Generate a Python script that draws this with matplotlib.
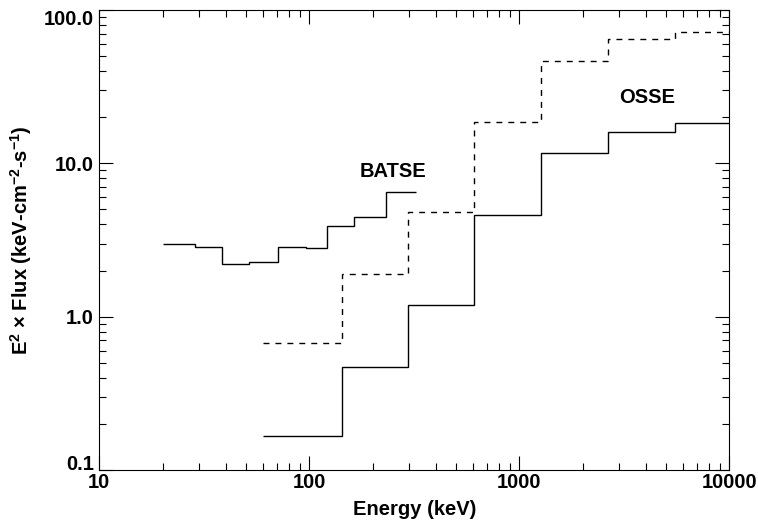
import matplotlib
matplotlib.use("Agg")
import matplotlib.pyplot as plt
import numpy as np
from matplotlib.ticker import LogLocator, NullFormatter, FixedLocator, FixedFormatter

plt.rcParams['font.family'] = ['Liberation Sans', 'DejaVu Sans']
plt.rcParams['font.weight'] = 'bold'
plt.rcParams['mathtext.default'] = 'regular'

# BATSE (solid histogram)
batse_edges = [20, 28.6, 38.5, 51.8, 71, 96, 121, 163, 232, 321]
batse_vals = [3.0, 2.84, 2.21, 2.27, 2.83, 2.79, 3.91, 4.49, 6.55]

# OSSE (solid histogram)
osse_edges = [60.4, 142.6, 294, 608, 1264, 2636, 5505, 10000]
osse_vals = [0.167, 0.472, 1.20, 4.62, 11.6, 16.1, 18.2]

# Dashed histogram
dash_edges = [60.4, 142.6, 294, 608, 1264, 2636, 5505, 10000]
dash_vals = [0.670, 1.90, 4.80, 18.5, 46.6, 64.4, 72.3]

x_ticks = [10, 100, 1000, 10000]
x_labels = ['10', '100', '1000', '10000']
y_ticks = [0.1, 1.0, 10.0, 100.0]
y_labels = ['0.1', '1.0', '10.0', '100.0']

fig = plt.figure(figsize=(7.58, 5.21), dpi=100)
ax = fig.add_axes([99.3/758, 51/521, (729.3-99.3)/758, 460/521])

def stairs(ax, edges, vals, **kw):
    ax.stairs(vals, edges, baseline=None, **kw)

stairs(ax, batse_edges, batse_vals, color='black', lw=1.0)
stairs(ax, osse_edges, osse_vals, color='black', lw=1.0)
stairs(ax, dash_edges, dash_vals, color='black', lw=1.0, linestyle=(0, (4.3, 4.3)))

ax.set_xscale('log')
ax.set_yscale('log')
ax.set_xlim(10, 10000)
ax.set_ylim(0.1, 100)

ax.xaxis.set_major_locator(FixedLocator(x_ticks))
ax.xaxis.set_major_formatter(FixedFormatter(x_labels))
ax.yaxis.set_major_locator(FixedLocator(y_ticks))
ax.yaxis.set_major_formatter(FixedFormatter(y_labels))
ax.xaxis.set_minor_locator(LogLocator(base=10, subs=np.arange(2, 10)))
ax.yaxis.set_minor_locator(LogLocator(base=10, subs=np.arange(2, 10)))
ax.xaxis.set_minor_formatter(NullFormatter())
ax.yaxis.set_minor_formatter(NullFormatter())

ax.tick_params(which='both', direction='in', top=True, right=True, width=0.8)
ax.tick_params(which='major', length=10, labelsize=14.5)
ax.tick_params(axis='x', which='major', pad=2)
ax.tick_params(axis='y', which='major', pad=4)
ax.tick_params(which='minor', length=5)
for lab in ax.get_xticklabels() + ax.get_yticklabels():
    lab.set_fontweight('bold')
ylabs = ax.get_yticklabels()
ylabs[0].set_verticalalignment('baseline')
ylabs[-1].set_verticalalignment('top')
for s in ax.spines.values():
    s.set_linewidth(0.8)

ax.set_xlabel('Energy (keV)', fontsize=14.5, fontweight='bold', labelpad=6)
ax.set_ylabel('E$^{2}$ × Flux (keV-cm$^{-2}$-s$^{-1}$)', fontsize=14.5, fontweight='bold', labelpad=7)

ax.text(10**(1 + (393.3-99.3)/210), 10**(-1 + (470-171.7)/153.3), 'BATSE',
        ha='center', va='center', fontsize=14.5, fontweight='bold')
ax.text(10**(1 + (646.7-99.3)/210), 10**(-1 + (470-98)/153.3), 'OSSE',
        ha='center', va='center', fontsize=14.5, fontweight='bold')

fig.savefig('out.png', dpi=100)
